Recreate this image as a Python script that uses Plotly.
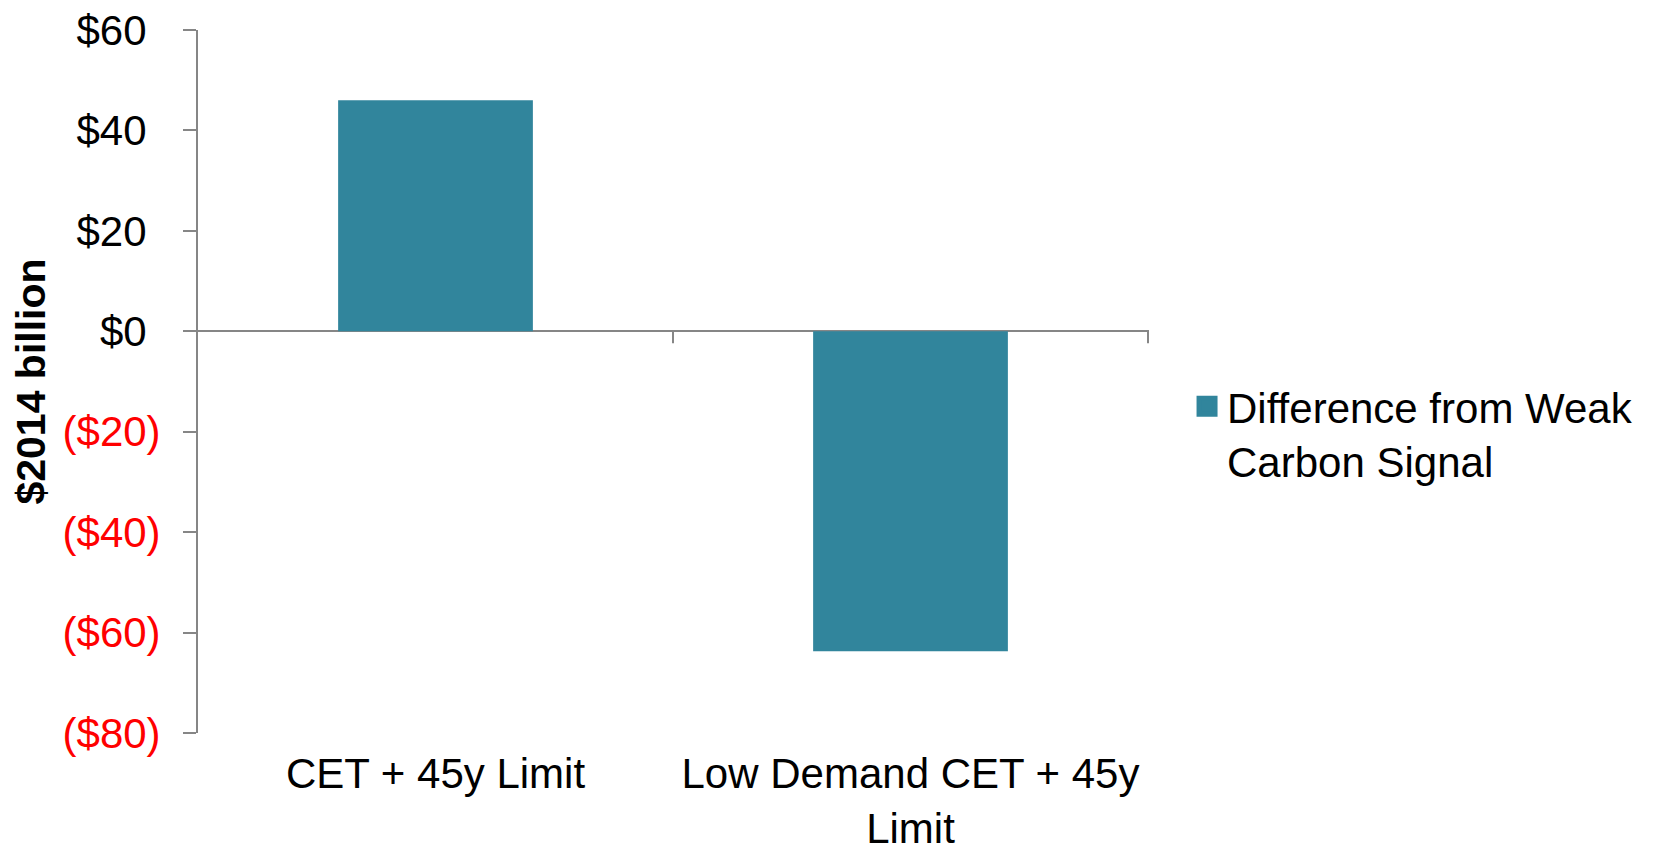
import plotly.graph_objects as go

# Data
categories = ["CET + 45y Limit", "Low Demand CET + 45y<br>Limit"]
values = [46.0, -63.7]
series_name = "Difference from Weak<br>Carbon Signal"

tick_values = [60, 40, 20, 0, -20, -40, -60, -80]
tick_labels = ["$60", "$40", "$20", "$0", "($20)", "($40)", "($60)", "($80)"]

BAR_COLOR = "#31859C"
AXIS_GRAY = "#868686"
FONT = "Liberation Sans, Arial, sans-serif"
FS = 42


def styled_tick(v, label):
    # negatives in red; positives padded with a hidden ")" so digits line up
    if v < 0:
        return f"<span style='color:#FF0000'>{label}</span>"
    return f"{label}<span style='color:rgba(0,0,0,0)'>)</span>"


fig = go.Figure()
fig.add_trace(go.Bar(
    x=categories, y=values, marker=dict(color=BAR_COLOR, line=dict(width=0)),
    showlegend=False, hoverinfo="x+y",
))
# legend entry with a larger square swatch
fig.add_trace(go.Scatter(
    x=[None], y=[None], mode="markers", name=series_name,
    marker=dict(symbol="square", size=16, color=BAR_COLOR,
                line=dict(color=BAR_COLOR, width=5)),
))

# category boundary ticks hanging from the zero line
for xb in [0.5, 1.5]:
    fig.add_shape(type="line", xref="x", yref="y", x0=xb, x1=xb,
                  ysizemode="pixel", yanchor=0, y0=0, y1=-12,
                  line=dict(color=AXIS_GRAY, width=2))

fig.update_layout(
    width=1661, height=851,
    margin=dict(l=198, r=512, t=30, b=118, autoexpand=False),
    paper_bgcolor="white", plot_bgcolor="white",
    font=dict(family=FONT, size=FS, color="black"),
    bargap=0.59,
    legend=dict(x=1.04, y=0.513, xanchor="left", yanchor="top",
                valign="top", font=dict(size=FS, color="black"),
                bgcolor="rgba(0,0,0,0)", itemwidth=30),
    xaxis=dict(showline=False, ticks="", showgrid=False, zeroline=False,
               automargin=False,
               tickfont=dict(size=FS, color="black"), ticklabelstandoff=12),
    yaxis=dict(range=[-80, 60], tickvals=tick_values,
               ticktext=[styled_tick(v, t) for v, t in zip(tick_values, tick_labels)],
               showline=True, linecolor=AXIS_GRAY, linewidth=2,
               ticks="outside", ticklen=13, tickcolor=AXIS_GRAY, tickwidth=2,
               showgrid=False, zeroline=True, zerolinecolor=AXIS_GRAY,
               zerolinewidth=2, ticklabelstandoff=14, automargin=False,
               tickfont=dict(size=FS, color="black"),
               title=dict(text="<b>$2014 billion</b>", standoff=4,
                          font=dict(size=41, color="black"))),
)

fig.write_html("out.html")
